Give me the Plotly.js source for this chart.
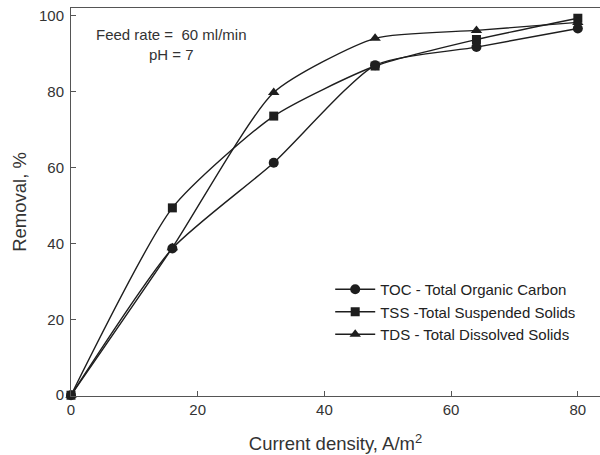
<!DOCTYPE html>
<html>
<head>
<meta charset="utf-8">
<script src="https://cdn.plot.ly/plotly-3.0.1.min.js"></script>
<style>html,body{margin:0;padding:0;background:#fff;}#chart{width:600px;height:455px;}</style>
</head>
<body>
<div id="chart"></div>
<script>
const currentDensity = [0, 16, 32, 48, 64, 80];
const tocRemoval = [0, 38.7, 61.3, 87.0, 91.8, 96.7];
const tssRemoval = [0, 49.4, 73.6, 86.8, 93.8, 99.4];
const tdsRemoval = [0, 38.9, 79.8, 94.1, 96.2, 98.3];
const seriesNames = ["TOC - Total Organic Carbon", "TSS -Total Suspended Solids", "TDS - Total Dissolved Solids"];
const xTicks = [0, 20, 40, 60, 80];
const yTicks = [0, 20, 40, 60, 80, 100];

const ink = '#1e1e1e';
function mk(y, name, symbol, size) {
  return {
    x: currentDensity, y: y, name: name, type: 'scatter', mode: 'lines+markers',
    line: {color: ink, width: 1.4, shape: 'spline', smoothing: 0.6},
    marker: {symbol: symbol, size: size, color: ink},
    cliponaxis: false
  };
}
const data = [
  mk(tocRemoval, seriesNames[0], 'circle', 10),
  mk(tssRemoval, seriesNames[1], 'square', 9),
  mk(tdsRemoval, seriesNames[2], 'triangle-up', 10)
];
const fam = 'Liberation Sans, Arial, sans-serif';
const font = {family: fam, size: 15, color: '#333'};
const layout = {
  width: 600, height: 455,
  margin: {l: 71, r: 0, t: 8, b: 59},
  paper_bgcolor: '#fff', plot_bgcolor: '#fff',
  font: font,
  showlegend: true,
  legend: {x: 0.49, y: 0.317, xanchor: 'left', yanchor: 'top', bgcolor: 'rgba(0,0,0,0)',
           font: {family: fam, size: 15, color: '#222'}, tracegroupgap: 0, itemwidth: 40},
  xaxis: {
    range: [0, 83.5], tickvals: xTicks, ticks: 'inside', ticklen: 5, tickcolor: '#555',
    showline: true, linecolor: '#555', linewidth: 1, mirror: true, showgrid: false, zeroline: false,
    tickfont: font,
    title: {text: 'Current density, A/m<sup>2</sup>', font: {family: fam, size: 18.5, color: '#333'}, standoff: 20}
  },
  yaxis: {
    range: [-0.2, 102.1], tickvals: yTicks, ticks: 'inside', ticklen: 5, tickcolor: '#555',
    showline: true, linecolor: '#555', linewidth: 1, showgrid: false, zeroline: false,
    tickfont: font, ticklabelstandoff: 3,
    title: {text: 'Removal, %', font: {family: fam, size: 18.5, color: '#333'}, standoff: 7}
  },
  annotations: [
    {xref: 'paper', yref: 'paper', x: 0.189, y: 0.907, xanchor: 'center', yanchor: 'middle', showarrow: false,
     text: 'Feed rate =  60 ml/min<br>pH = 7', align: 'center', font: {family: fam, size: 15, color: '#333'}}
  ]
};
Plotly.newPlot('chart', data, layout, {displayModeBar: false, staticPlot: true});
</script>
</body>
</html>
